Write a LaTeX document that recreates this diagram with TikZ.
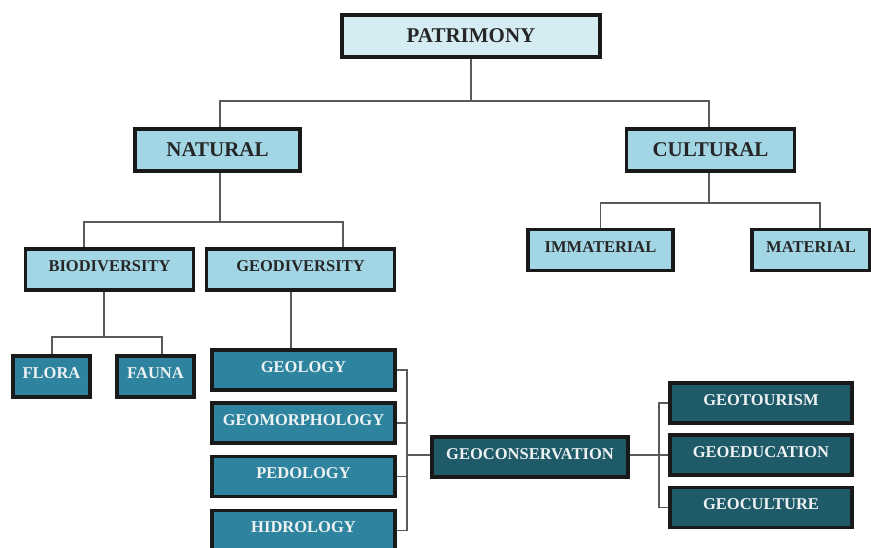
\documentclass[tikz,border=0pt]{standalone}
\usepackage{fontspec}
\setmainfont{Liberation Serif}
\usetikzlibrary{shadows}
\definecolor{cTop}{HTML}{D6ECF3}
\definecolor{cMid}{HTML}{A3D6E5}
\definecolor{cLow}{HTML}{2E849E}
\definecolor{cDark}{HTML}{1E5A68}
\definecolor{cLine}{HTML}{5A5A5A}
\definecolor{cTxt}{HTML}{EEF2F3}
\tikzset{
  box/.style={draw=black!90, line width=3.3pt, rectangle, inner sep=0pt,
    drop shadow={shadow xshift=1.8pt, shadow yshift=-1.8pt, fill=black, opacity=0.2}},
  bigtxt/.style={font=\fontsize{21}{25}\selectfont\bfseries, text height=13.9pt, text depth=0pt},
  smalltxt/.style={font=\fontsize{16.5}{20}\selectfont\bfseries, text height=10.9pt, text depth=6pt},
  toplvl/.style={box, fill=cTop, bigtxt, text=black!85},
  midbig/.style={box, fill=cMid, bigtxt, text=black!85},
  midsmall/.style={box, fill=cMid, smalltxt, text=black!85},
  lowbox/.style={box, fill=cLow, smalltxt, text=cTxt},
  darkbox/.style={box, fill=cDark, smalltxt, text=cTxt},
  conn/.style={draw=cLine, line width=1.2pt},
}
\begin{document}
\begin{tikzpicture}[x=1pt,y=-1pt]
\useasboundingbox (0,0) rectangle (871,547);
% nodes
\node[toplvl, minimum width=258pt, minimum height=42pt] (pat) at (471,36) {PATRIMONY};
\node[midbig, minimum width=165pt, minimum height=42pt] (nat) at (217.5,150) {NATURAL};
\node[midbig, minimum width=168pt, minimum height=42pt] (cul) at (710.5,150) {CULTURAL};
\node[midsmall, minimum width=168pt, minimum height=41pt] (bio) at (109.5,269.5) {BIODIVERSITY};
\node[midsmall, minimum width=188pt, minimum height=41pt] (geod) at (300.5,269.5) {GEODIVERSITY};
\node[midsmall, minimum width=145pt, minimum height=41pt] (imm) at (600.5,250) {IMMATERIAL};
\node[midsmall, minimum width=118pt, minimum height=41pt] (mat) at (811,250) {MATERIAL};
\node[lowbox, minimum width=77pt, minimum height=41pt] (flo) at (51.5,376.5) {FLORA};
\node[lowbox, minimum width=77pt, minimum height=41pt] (fau) at (155.5,376.5) {FAUNA};
\node[lowbox, minimum width=183pt, minimum height=40pt] (geol) at (303.5,370) {GEOLOGY};
\node[lowbox, minimum width=183pt, minimum height=40pt] (geom) at (303.5,423) {GEOMORPHOLOGY};
\node[lowbox, minimum width=183pt, minimum height=40pt] (pedo) at (303.5,476.5) {PEDOLOGY};
\node[lowbox, minimum width=183pt, minimum height=40pt] (hidr) at (303.5,530.5) {HIDROLOGY};
\node[darkbox, minimum width=196pt, minimum height=40pt] (gcons) at (530,457) {GEOCONSERVATION};
\node[darkbox, minimum width=182pt, minimum height=40pt] (gtour) at (761,403) {GEOTOURISM};
\node[darkbox, minimum width=182pt, minimum height=40pt] (gedu) at (761,455) {GEOEDUCATION};
\node[darkbox, minimum width=182pt, minimum height=40pt] (gcult) at (761,507.5) {GEOCULTURE};
% junctions
\coordinate (j0) at (471,101);
\coordinate (jn) at (220,222);
\coordinate (jc) at (709,203);
\coordinate (jb) at (104,337);
\coordinate (jg) at (407,455);
\coordinate (jr) at (659,455);
% connectors
\draw[conn] (pat.south) -- (j0);
\draw[conn] (nat.north -| jn) |- (j0) -| (cul.north -| jc);
\draw[conn] (nat.south -| jn) -- (jn);
\draw[conn] (bio.north -| 84,0) |- (jn) -| (geod.north -| 343,0);
\draw[conn] (cul.south -| jc) -- (jc);
\draw[conn] (imm.north) |- (jc) -| (mat.north -| 820,0);
\draw[conn] (bio.south -| jb) -- (jb);
\draw[conn] (flo.north -| 52,0) |- (jb) -| (fau.north -| 162,0);
\draw[conn] (geod.south -| 291,0) -- (geol.north -| 291,0);
\draw[conn] (geol.east) -| (jg) |- (hidr.east);
\draw[conn] (geom.east) -| (jg);
\draw[conn] (pedo.east) -| (jg);
\draw[conn] (jg) -- (gcons.west |- jg);
\draw[conn] (gcons.east |- jr) -- (jr);
\draw[conn] (gtour.west) -| (jr) |- (gcult.west);
\draw[conn] (jr) -- (gedu.west |- jr);
\end{tikzpicture}
\end{document}
